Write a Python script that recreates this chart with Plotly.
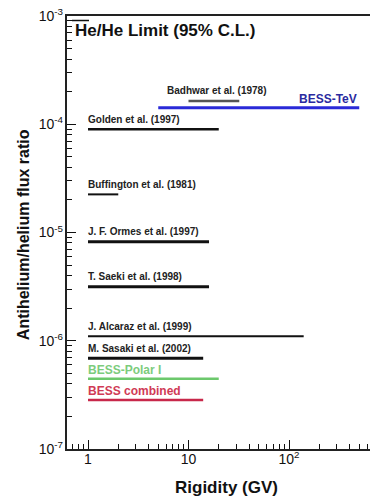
import plotly.graph_objects as go
import numpy as np

# Experiments: label, rigidity range (GV), upper limit of antihelium/helium ratio
labels = ["Badhwar et al. (1978)", "BESS-TeV", "Golden et al. (1997)", "Buffington et al. (1981)",
          "J. F. Ormes et al. (1997)", "T. Saeki et al. (1998)", "J. Alcaraz et al. (1999)",
          "M. Sasaki et al. (2002)", "BESS-Polar I", "BESS combined"]
r_min = [10, 5, 1, 1, 1, 1, 1, 1, 1, 1]
r_max = [32, 500, 20, 2, 16, 16, 140, 14, 20, 14]
limit = [1.64e-4, 1.42e-4, 9.0e-5, 2.25e-5, 8.2e-6, 3.15e-6, 1.1e-6, 6.9e-7, 4.46e-7, 2.84e-7]
line_colors = ["#555555", "#2a2ad8", "#111111", "#111111", "#111111", "#111111", "#111111",
               "#111111", "#6cc86c", "#c8284a"]
text_colors = ["#222222", "#2a2aa0", "#222222", "#222222", "#222222", "#222222", "#222222",
               "#222222", "#7ccc7c", "#d03a55"]
line_widths = [2.5, 3, 2.5, 2, 3, 3, 2, 3, 2.5, 2.5]
label_x = [5.8, 500, 1, 1, 1, 1, 1, 1, 1, 1]
label_size = [10, 12, 10, 10, 10, 10, 10, 10, 12, 12]

x_tickvals = [1, 10, 100]
x_ticktext = ["1", "10", "10<sup>2</sup>"]
y_tickvals = [1e-7, 1e-6, 1e-5, 1e-4, 1e-3]
y_ticktext = ["10<sup>-7</sup>", "10<sup>-6</sup>", "10<sup>-5</sup>", "10<sup>-4</sup>", "10<sup>-3</sup>"]
x_minor = [m * d for d in (0.1, 1, 10, 100) for m in range(2, 10)]
y_minor = [m * d for d in (1e-7, 1e-6, 1e-5, 1e-4) for m in range(2, 10)]

FONT = "Liberation Sans, Arial, sans-serif"
XR = [np.log10(0.618), 2.806]
YR = [-7, -3]

fig = go.Figure()
for i in range(len(labels)):
    fig.add_trace(go.Scatter(x=[r_min[i], r_max[i]], y=[limit[i], limit[i]], mode="lines",
                             line=dict(color=line_colors[i], width=line_widths[i]),
                             showlegend=False, hoverinfo="skip"))
    big = label_size[i] > 10
    if labels[i] == "BESS-TeV":
        xa, xs = "right", 0
    elif labels[i].startswith("Badhwar"):
        xa, xs = "left", 0
    else:
        xa, xs = "left", -2
    fig.add_annotation(x=np.log10(label_x[i]), y=np.log10(limit[i]), text="<b>" + labels[i] + "</b>",
                       showarrow=False, xanchor=xa, yanchor="middle", xshift=xs,
                       yshift=10 if not big else 9,
                       font=dict(size=label_size[i], color=text_colors[i], family=FONT))

# invisible trace to carry the overlay axes with the decade (major) ticks
fig.add_trace(go.Scatter(x=r_min, y=limit, xaxis="x2", yaxis="y2", mode="markers",
                         marker=dict(opacity=0), showlegend=False, hoverinfo="skip"))

# Title with overline on first He
fig.add_annotation(xref="paper", yref="paper", x=0.02, y=0.966, text="<b>He/He Limit (95% C.L.)</b>",
                   showarrow=False, xanchor="left", yanchor="middle",
                   font=dict(size=17, color="#111111", family=FONT))
fig.add_shape(type="line", xref="paper", yref="paper", x0=0.0165, x1=0.0726, y0=0.9896, y1=0.9896,
              line=dict(color="#111111", width=1.5))

# axis titles
fig.add_annotation(xref="paper", yref="paper", x=0.528, y=-0.09, text="<b>Rigidity (GV)</b>",
                   showarrow=False, xanchor="center", yanchor="middle",
                   font=dict(size=17, color="#111111", family=FONT))
fig.add_annotation(xref="paper", yref="paper", x=-0.145, y=0.494, text="<b>Antihelium/helium flux ratio</b>",
                   showarrow=False, xanchor="center", yanchor="middle", textangle=-90,
                   font=dict(size=16, color="#111111", family=FONT))

fig.update_layout(
    width=370, height=498,
    margin=dict(l=67, r=0, t=16, b=49),
    paper_bgcolor="white", plot_bgcolor="white",
    font=dict(family=FONT, size=14, color="#111111"),
    showlegend=False,
    xaxis=dict(type="log", range=XR, tickmode="array", tickvals=x_minor,
               ticktext=[""] * len(x_minor), ticks="inside", ticklen=5, tickwidth=1.4, tickcolor="#111",
               showline=True, linecolor="#222", linewidth=1.5, mirror=True,
               showgrid=False, zeroline=False),
    yaxis=dict(type="log", range=YR, tickmode="array", tickvals=y_minor,
               ticktext=[""] * len(y_minor), ticks="inside", ticklen=5, tickwidth=1.4, tickcolor="#111",
               showline=True, linecolor="#222", linewidth=1.5,
               showgrid=False, zeroline=False),
    xaxis2=dict(type="log", range=XR, overlaying="x", anchor="y", side="bottom",
                tickmode="array", tickvals=x_tickvals, ticktext=x_ticktext,
                ticks="inside", ticklen=9, tickwidth=1.4, tickcolor="#111",
                showline=False, showgrid=False, zeroline=False,
                tickfont=dict(size=14, family=FONT)),
    yaxis2=dict(type="log", range=YR, overlaying="y", anchor="x", side="left",
                tickmode="array", tickvals=y_tickvals, ticktext=y_ticktext,
                ticks="inside", ticklen=9, tickwidth=1.4, tickcolor="#111", ticklabelstandoff=3,
                showline=False, showgrid=False, zeroline=False,
                tickfont=dict(size=14, family=FONT)),
)

fig.write_html("out.html")
